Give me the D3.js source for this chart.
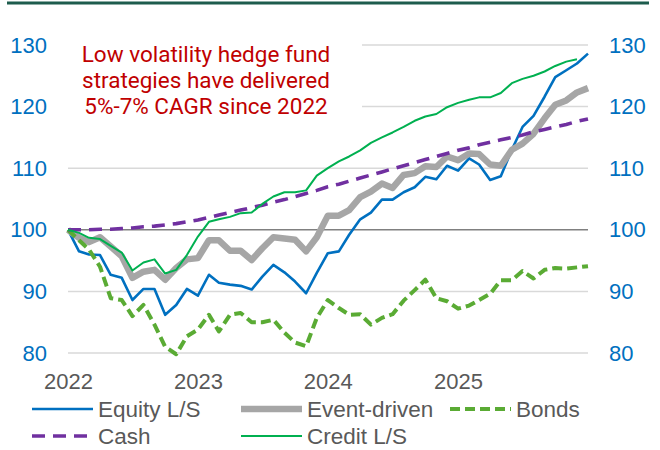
<!DOCTYPE html>
<html>
<head>
<meta charset="utf-8">
<script src="https://cdn.jsdelivr.net/npm/d3@7"></script>
<style>
  body { margin: 0; background: #fff; }
  svg { display: block; }
  .tick text { font-family: "Liberation Sans", Arial, sans-serif; }
</style>
</head>
<body>
<div id="chart"></div>
<script>
/* size */
var width = 660;
var height = 450;

/* data: month starts from Jan 2022 to Jan 2026 */
var years = ["2022", "2023", "2024", "2025"];
var yTicks = [80, 90, 100, 110, 120, 130];

var equity = [100, 96.5, 96.0, 95.9, 92.7, 92.2, 88.6, 90.4, 90.4, 86.2, 87.8, 90.4,
  89.3, 92.7, 91.4, 91.1, 90.9, 90.3, 92.4, 94.3, 93.1, 91.6, 89.7, 93.0,
  96.2, 96.5, 99.2, 101.7, 102.8, 104.9, 104.9, 106.1, 106.9, 108.6, 108.2, 110.4,
  109.6, 111.6, 110.6, 108.1, 108.7, 113.0, 116.7, 118.5, 121.6, 124.8, 125.9, 127.0,
  128.6];
var eventDriven = [100, 98.7, 98.0, 98.8, 97.3, 95.7, 92.2, 93.2, 93.5, 91.9, 93.8, 95.2,
  95.4, 98.3, 98.3, 96.6, 96.6, 95.1, 97.0, 98.8, 98.6, 98.4, 96.5, 98.8,
  102.3, 102.3, 103.2, 105.3, 106.2, 107.5, 106.8, 108.9, 109.2, 110.3, 110.2, 111.9,
  111.3, 112.4, 112.3, 110.6, 110.4, 113.0, 114.0, 115.6, 118.1, 120.3, 121.0, 122.3,
  123.0];
var bonds = [100, 98.3, 96.8, 94.0, 88.9, 88.6, 86.0, 87.8, 84.6, 81.0, 79.8, 82.7,
  83.8, 86.2, 83.5, 86.2, 86.5, 85.0, 85.0, 85.4, 83.3, 81.7, 81.1, 85.7,
  88.6, 87.3, 86.2, 86.3, 84.6, 85.7, 86.3, 88.5, 90.2, 91.9, 88.9, 88.4,
  87.2, 87.7, 88.6, 89.6, 91.8, 91.8, 93.3, 92.1, 93.5, 93.8, 93.7, 93.9,
  94.1];
var cash = [100, 100.0, 100.0, 100.1, 100.1, 100.2, 100.3, 100.5, 100.6, 100.8, 101.0, 101.3,
  101.6, 102.0, 102.4, 102.8, 103.2, 103.6, 104.0, 104.5, 104.9, 105.4, 105.9, 106.4,
  107.0, 107.4, 107.9, 108.4, 108.9, 109.4, 109.9, 110.4, 110.9, 111.4, 111.9, 112.4,
  112.9, 113.3, 113.8, 114.2, 114.6, 115.0, 115.4, 115.9, 116.3, 116.7, 117.1, 117.6,
  118.0];
var credit = [100, 99.5, 98.7, 98.5, 97.4, 96.3, 93.4, 94.7, 95.2, 92.9, 93.5, 95.9,
  98.9, 101.3, 101.7, 102.1, 102.7, 102.8, 104.2, 105.4, 106.1, 106.1, 106.4, 108.8,
  110.0, 111.1, 111.9, 112.9, 114.1, 115.0, 115.8, 116.7, 117.7, 118.4, 118.8, 119.9,
  120.6, 121.1, 121.5, 121.5, 122.2, 123.8, 124.5, 125.0, 125.7, 126.6, 127.3, 127.7];

var titleLines = ["Low volatility hedge fund", "strategies have delivered", "5%-7% CAGR since 2022"];

var series = [
  { name: "Equity L/S", values: equity, color: "#0070c0", width: 2.6, dash: null },
  { name: "Event-driven", values: eventDriven, color: "#a6a6a6", width: 6.5, dash: null },
  { name: "Bonds", values: bonds, color: "#5aab34", width: 4, dash: "10,5" },
  { name: "Cash", values: cash, color: "#7030a0", width: 3.6, dash: "13,8" },
  { name: "Credit L/S", values: credit, color: "#00b050", width: 2, dash: null }
];

var months = d3.timeMonth.range(new Date(2022, 0, 1), new Date(2026, 0, 2));

/* scales */
var x = d3.scaleTime()
  .domain([new Date(2022, 0, 1), new Date(2026, 0, 1)])
  .range([68, 588]);
var y = d3.scaleLinear().domain([80, 130]).range([353, 45]);

var svg = d3.select("#chart").append("svg")
  .attr("width", width)
  .attr("height", height);

// top rule
svg.append("line")
  .attr("x1", 7).attr("x2", 649)
  .attr("y1", 3).attr("y2", 3)
  .attr("stroke", "#1d5c4d")
  .attr("stroke-width", 3);

// gridlines
svg.append("g")
  .selectAll("line")
  .data(yTicks)
  .enter()
  .append("line")
  .attr("x1", 68).attr("x2", 588)
  .attr("y1", function(d){ return y(d); })
  .attr("y2", function(d){ return y(d); })
  .attr("stroke", function(d){ return d === 100 ? "#808080" : "#d9d9d9"; })
  .attr("stroke-width", 1.5);

// white box behind the note
svg.append("rect")
  .attr("x", 62).attr("y", 30)
  .attr("width", 300).attr("height", 92)
  .attr("fill", "#fff");

svg.append("text")
  .attr("x", 206)
  .attr("font-family", "Roboto, sans-serif")
  .attr("font-size", 22.5)
  .attr("fill", "#c00000")
  .attr("text-anchor", "middle")
  .selectAll("tspan")
  .data(titleLines)
  .enter()
  .append("tspan")
  .attr("x", 206)
  .attr("y", function(d, i){ return 62 + 26 * i; })
  .text(function(d){ return d; });

/* axes */
var yLeft = svg.append("g")
  .attr("transform", "translate(68,0)")
  .call(d3.axisLeft(y).tickValues(yTicks).tickSize(0).tickPadding(21));
var yRight = svg.append("g")
  .attr("transform", "translate(588,0)")
  .call(d3.axisRight(y).tickValues(yTicks).tickSize(0).tickPadding(21));
[yLeft, yRight].forEach(function(g){
  g.select(".domain").remove();
  g.selectAll("text").attr("font-size", 22).attr("fill", "#0070c0");
});

var yearDates = years.map(function(d){ return new Date(+d, 0, 1); });
var xAxis = svg.append("g")
  .attr("transform", "translate(0,353)")
  .call(d3.axisBottom(x).tickValues(yearDates).tickSize(0).tickPadding(20)
    .tickFormat(function(d, i){ return years[i]; }));
xAxis.select(".domain").remove();
xAxis.selectAll("text").attr("font-size", 22).attr("fill", "#595959");

/* lines */
var line = d3.line()
  .x(function(d, i){ return x(months[i]); })
  .y(function(d){ return y(d); });

svg.append("g")
  .selectAll("path")
  .data(series)
  .enter()
  .append("path")
  .attr("d", function(d){ return line(d.values); })
  .attr("fill", "none")
  .attr("stroke", function(d){ return d.color; })
  .attr("stroke-width", function(d){ return d.width; })
  .attr("stroke-dasharray", function(d){ return d.dash; })
  .attr("stroke-linejoin", "round");

/* legend */
var legendPos = [[32, 409], [241, 409], [450, 409], [32, 436], [241, 436]];
var legend = svg.append("g")
  .selectAll("g")
  .data(series)
  .enter()
  .append("g")
  .attr("transform", function(d, i){ return "translate(" + legendPos[i][0] + "," + legendPos[i][1] + ")"; });

legend.append("line")
  .attr("x1", 0).attr("x2", 61)
  .attr("stroke", function(d){ return d.color; })
  .attr("stroke-width", function(d){ return d.width; })
  .attr("stroke-dasharray", function(d){ return d.dash; });

legend.append("text")
  .attr("x", 66)
  .attr("y", 8)
  .attr("font-family", "'Liberation Sans', Arial, sans-serif")
  .attr("font-size", 22.5)
  .attr("fill", "#595959")
  .text(function(d){ return d.name; });
</script>
</body>
</html>
